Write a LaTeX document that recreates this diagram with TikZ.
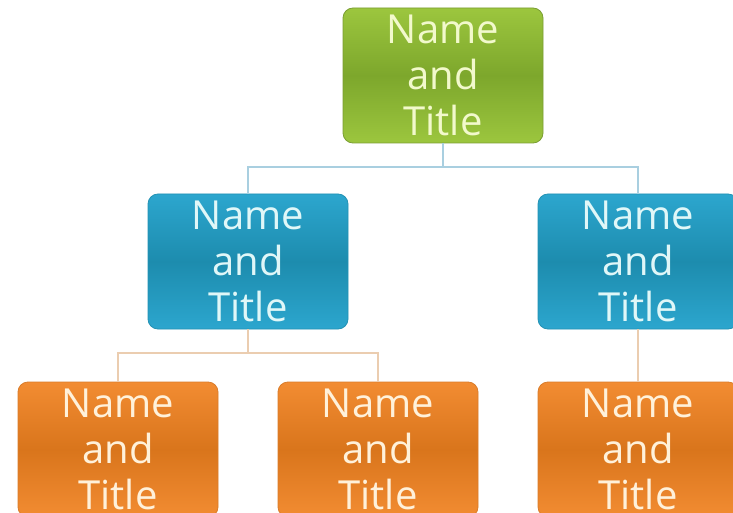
\documentclass[tikz,border=0pt]{standalone}
\usepackage{fontspec}
\setmainfont{Open Sans}
\definecolor{greentop}{HTML}{9CC63E}
\definecolor{greenmid}{HTML}{7DA72C}
\definecolor{greenline}{HTML}{7A9E32}
\definecolor{greentext}{HTML}{F2F9CC}
\definecolor{bluetop}{HTML}{2CA6CE}
\definecolor{bluemid}{HTML}{1D8CAE}
\definecolor{blueline}{HTML}{2392B4}
\definecolor{bluetext}{HTML}{E0F7F8}
\definecolor{orangetop}{HTML}{F28C32}
\definecolor{orangemid}{HTML}{D9751C}
\definecolor{orangeline}{HTML}{DA7C2A}
\definecolor{orangetext}{HTML}{FFF1DA}
\definecolor{bluelink}{HTML}{A9CFE0}
\definecolor{orangelink}{HTML}{EBCDB0}
\tikzset{
  person/.style={rounded corners=10pt, minimum width=200pt, minimum height=135pt,
    align=center, inner sep=0pt, font=\fontsize{40}{46}\selectfont, line width=0.8pt},
  greenbox/.style={person, draw=greenline, top color=greentop, bottom color=greentop,
    middle color=greenmid, text=greentext},
  bluebox/.style={person, draw=blueline, top color=bluetop, bottom color=bluetop,
    middle color=bluemid, text=bluetext},
  orangebox/.style={person, draw=orangeline, top color=orangetop, bottom color=orangetop,
    middle color=orangemid, text=orangetext},
  bluewire/.style={draw=bluelink, line width=1.5pt},
  orangewire/.style={draw=orangelink, line width=1.5pt}
}
\begin{document}
\begin{tikzpicture}[x=1pt, y=-1pt]
\path[use as bounding box, clip] (0,0) rectangle (733,513);
\fill[white] (0,0) rectangle (733,513);
% boxes
\node[greenbox] (boss) at (443,75.5) {Name\\and\\Title};
\node[bluebox] (left) at (248,261.5) {Name\\and\\Title};
\node[bluebox] (right) at (638,261.5) {Name\\and\\Title};
\node[orangebox] (leftA) at (118,449.5) {Name\\and\\Title};
\node[orangebox] (leftB) at (378,449.5) {Name\\and\\Title};
\node[orangebox] (rightA) at (638,449.5) {Name\\and\\Title};
% connectors
\coordinate (split) at (443,167);
\coordinate (splitL) at (248,353);
\draw[bluewire] (boss.south) -- (split) -| (left.north);
\draw[bluewire] (split) -| (right.north);
\draw[orangewire] (left.south) -- (splitL) -| (leftA.north);
\draw[orangewire] (splitL) -| (leftB.north);
\draw[orangewire] (right.south) -- (rightA.north);
\end{tikzpicture}
\end{document}
